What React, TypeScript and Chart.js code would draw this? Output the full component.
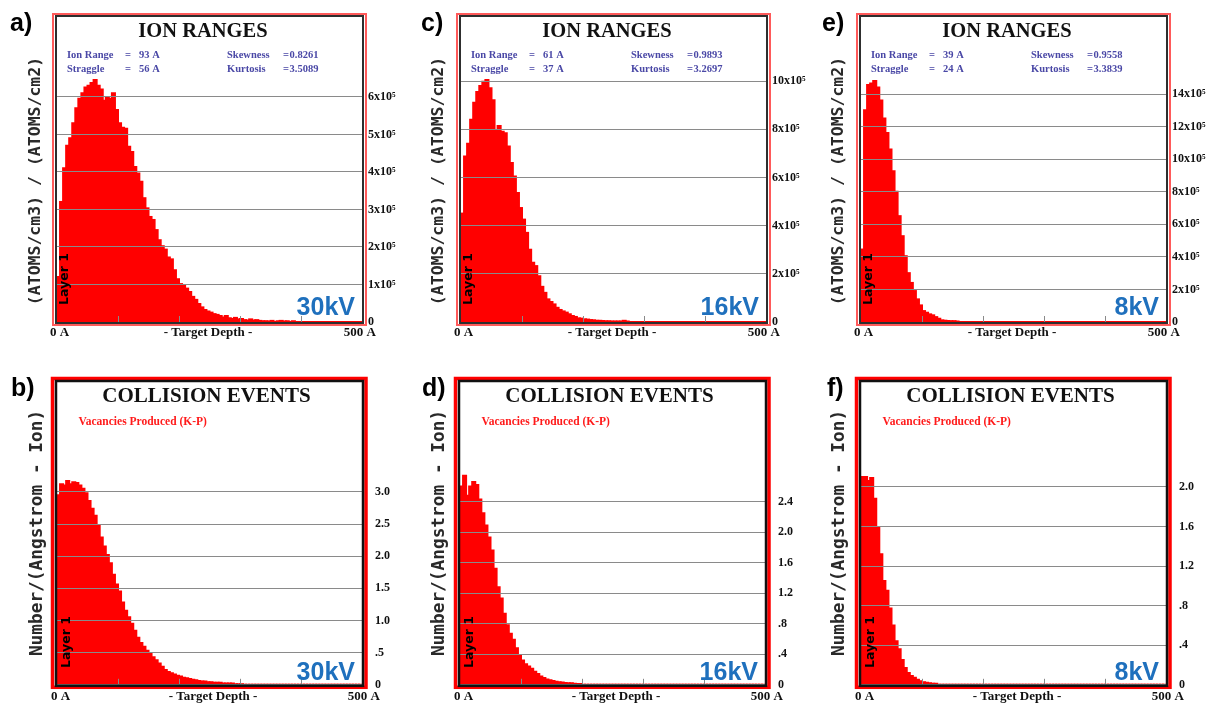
import React, { useEffect, useRef } from "react";
import { Chart, registerables } from "chart.js";

Chart.register(...registerables);

// ---------------- DATA ----------------
// Target depth bins: 100 bins of 5 Å from 0 to 500 Å (SRIM histogram)
const depthBins: number[] = Array.from({ length: 100 }, (_, i) => i * 5);
const DEPTH_MAX = 500;
const depthMinorTicks = [100, 200, 300, 400];
const xStartLabel = "0 A";
const xEndLabel = "500 A";
const xAxisTitle = "- Target Depth -";

// Ion ranges, units of 10^5 (atoms/cm3)/(atoms/cm2)
const ions30kV = [
  1.2, 3.2, 4.1, 4.7, 4.9, 5.3, 5.7, 5.95, 6.1, 6.25,
  6.3, 6.37, 6.45, 6.3, 6.2, 5.9, 6.0, 5.95, 6.1, 5.65,
  5.3, 5.18, 5.15, 4.67, 4.53, 4.13, 3.96, 3.74, 3.3, 3.03,
  2.8, 2.72, 2.45, 2.18, 2.02, 1.93, 1.72, 1.67, 1.38, 1.14,
  1.01, 0.96, 0.89, 0.8, 0.67, 0.59, 0.48, 0.39, 0.32, 0.28,
  0.25, 0.21, 0.19, 0.16, 0.12, 0.16, 0.1, 0.08, 0.11, 0.07,
  0.08, 0.05, 0.04, 0.07, 0.04, 0.05, 0.03, 0.02, 0.02, 0.01,
  0.03, 0, 0.02, 0.03, 0.01, 0.02, 0, 0.02, 0, 0,
  0, 0, 0, 0, 0, 0, 0, 0, 0, 0,
  0, 0, 0, 0, 0, 0, 0, 0, 0, 0,
];
const ions16kV = [
  4.5, 6.87, 7.4, 8.4, 9.1, 9.55, 9.8, 9.97, 10.05, 9.7,
  9.2, 7.97, 8.14, 7.9, 7.83, 7.28, 6.6, 6.04, 5.35, 4.73,
  4.25, 3.7, 3.0, 2.46, 2.32, 1.9, 1.46, 1.21, 0.94, 0.83,
  0.73, 0.59, 0.5, 0.44, 0.39, 0.32, 0.25, 0.21, 0.15, 0.14,
  0.11, 0.1, 0.08, 0.07, 0.05, 0.05, 0.04, 0.03, 0.03, 0.02,
  0.02, 0.01, 0.01, 0.05, 0.01, 0, 0, 0, 0, 0,
  0, 0, 0, 0, 0, 0, 0, 0, 0, 0,
  0, 0, 0, 0, 0, 0, 0, 0, 0, 0,
  0, 0, 0, 0, 0, 0, 0, 0, 0, 0,
  0, 0, 0, 0, 0, 0, 0, 0, 0, 0,
];
const ions8kV = [
  4.45, 13.0, 14.55, 14.65, 14.8, 14.4, 13.6, 12.5, 11.6, 10.6,
  9.25, 8.0, 6.5, 5.27, 4.04, 3.0, 2.4, 1.9, 1.39, 1.02,
  0.67, 0.57, 0.47, 0.41, 0.3, 0.2, 0.1, 0.08, 0.06, 0.05,
  0.05, 0.03, 0, 0, 0, 0, 0, 0, 0, 0,
  0, 0, 0, 0, 0, 0, 0, 0, 0, 0,
  0, 0, 0, 0, 0, 0, 0, 0, 0, 0,
  0, 0, 0, 0, 0, 0, 0, 0, 0, 0,
  0, 0, 0, 0, 0, 0, 0, 0, 0, 0,
  0, 0, 0, 0, 0, 0, 0, 0, 0, 0,
  0, 0, 0, 0, 0, 0, 0, 0, 0, 0,
];

// Collision events: vacancies produced, Number/(Angstrom-Ion)
const vac30kV = [
  2.95, 3.12, 3.1, 3.17, 3.12, 3.15, 3.14, 3.1, 3.05, 2.98,
  2.86, 2.74, 2.63, 2.48, 2.29, 2.15, 2.02, 1.89, 1.71, 1.56,
  1.45, 1.28, 1.15, 1.05, 0.95, 0.84, 0.73, 0.65, 0.59, 0.53,
  0.48, 0.43, 0.38, 0.33, 0.28, 0.23, 0.2, 0.18, 0.16, 0.14,
  0.13, 0.11, 0.1, 0.09, 0.08, 0.07, 0.06, 0.05, 0.05, 0.04,
  0.04, 0.03, 0.03, 0.03, 0.02, 0.02, 0.02, 0.02, 0.01, 0.01,
  0.01, 0, 0, 0, 0, 0, 0, 0, 0, 0,
  0, 0, 0, 0, 0, 0, 0, 0, 0, 0,
  0, 0, 0, 0, 0, 0, 0, 0, 0, 0,
  0, 0, 0, 0, 0, 0, 0, 0, 0, 0,
];
const vac16kV = [
  2.6, 2.74, 2.48, 2.6, 2.66, 2.62, 2.43, 2.25, 2.09, 1.93,
  1.76, 1.52, 1.28, 1.13, 0.93, 0.78, 0.67, 0.59, 0.48, 0.39,
  0.32, 0.27, 0.24, 0.21, 0.17, 0.14, 0.11, 0.09, 0.07, 0.06,
  0.05, 0.04, 0.035, 0.03, 0.025, 0.02, 0.02, 0.015, 0.01, 0.01,
  0, 0, 0, 0, 0, 0, 0, 0, 0, 0,
  0, 0, 0, 0, 0, 0, 0, 0, 0, 0,
  0, 0, 0, 0, 0, 0, 0, 0, 0, 0,
  0, 0, 0, 0, 0, 0, 0, 0, 0, 0,
  0, 0, 0, 0, 0, 0, 0, 0, 0, 0,
  0, 0, 0, 0, 0, 0, 0, 0, 0, 0,
];
const vac8kV = [
  2.1, 2.1, 2.06, 2.09, 1.88, 1.59, 1.32, 1.05, 0.95, 0.77,
  0.6, 0.44, 0.36, 0.25, 0.17, 0.12, 0.09, 0.07, 0.05, 0.035,
  0.025, 0.02, 0.015, 0.01, 0.01, 0, 0, 0, 0, 0,
  0, 0, 0, 0, 0, 0, 0, 0, 0, 0,
  0, 0, 0, 0, 0, 0, 0, 0, 0, 0,
  0, 0, 0, 0, 0, 0, 0, 0, 0, 0,
  0, 0, 0, 0, 0, 0, 0, 0, 0, 0,
  0, 0, 0, 0, 0, 0, 0, 0, 0, 0,
  0, 0, 0, 0, 0, 0, 0, 0, 0, 0,
  0, 0, 0, 0, 0, 0, 0, 0, 0, 0,
];

// Y ticks (right axis)
const ionTicks30 = [0, 1, 2, 3, 4, 5, 6];
const ionTickLabels30 = ["0", "1x10⁵", "2x10⁵", "3x10⁵", "4x10⁵", "5x10⁵", "6x10⁵"];
const ionTicks16 = [0, 2, 4, 6, 8, 10];
const ionTickLabels16 = ["0", "2x10⁵", "4x10⁵", "6x10⁵", "8x10⁵", "10x10⁵"];
const ionTicks8 = [0, 2, 4, 6, 8, 10, 12, 14];
const ionTickLabels8 = ["0", "2x10⁵", "4x10⁵", "6x10⁵", "8x10⁵", "10x10⁵", "12x10⁵", "14x10⁵"];
const vacTicks30 = [0, 0.5, 1, 1.5, 2, 2.5, 3];
const vacTickLabels30 = ["0", ".5", "1.0", "1.5", "2.0", "2.5", "3.0"];
const vacTicks16 = [0, 0.4, 0.8, 1.2, 1.6, 2.0, 2.4];
const vacTickLabels16 = ["0", ".4", ".8", "1.2", "1.6", "2.0", "2.4"];
const vacTicks8 = [0, 0.4, 0.8, 1.2, 1.6, 2.0];
const vacTickLabels8 = ["0", ".4", ".8", "1.2", "1.6", "2.0"];

// Statistics text
const stats30kV = [["Ion Range", "93 A", "Skewness", "0.8261"], ["Straggle", "56 A", "Kurtosis", "3.5089"]];
const stats16kV = [["Ion Range", "61 A", "Skewness", "0.9893"], ["Straggle", "37 A", "Kurtosis", "3.2697"]];
const stats8kV = [["Ion Range", "39 A", "Skewness", "0.9558"], ["Straggle", "24 A", "Kurtosis", "3.3839"]];

// ---------------- LAYOUT / STYLE ----------------
const SERIF = '"Liberation Serif", "Times New Roman", serif';
const SANS = '"Liberation Sans", Arial, sans-serif';
const MONO = '"DejaVu Sans Mono", monospace';
const GRID = "#8a8a8a";
const CANVAS_W = 415;
const AXIS_W = 45;

const ROWS: Record<string, any> = {
  top: {
    canvasTop: 0, canvasH: 345, caTop: 17, caBottom: 322, caL: 5, caR: 310, tickPad: 6,
    letterY: 31, yTitleY: 181, yTitleFont: `bold 16.5px ${MONO}`, yTitle: "(ATOMS/cm3) / (ATOMS/cm2)",
    title: "ION RANGES", titleY: 37, titleFont: `bold 20.5px ${SERIF}`, titleX: 151,
    kvY: 315, kvR: 303, layerX: 12.5, layerY: 305, xLabY: 333, xTitleX: 156, x500R: 324, x0L: -2,
  },
  bottom: {
    canvasTop: 350, canvasH: 355, caTop: 382, caBottom: 685, caL: 6, caR: 311, tickPad: 13,
    letterY: 396, yTitleY: 533, yTitleFont: `bold 17.8px ${MONO}`, yTitle: "Number/(Angstrom - Ion)",
    title: "COLLISION EVENTS", titleY: 402, titleFont: `bold 21px ${SERIF}`, titleX: 155.5,
    kvY: 680, kvR: 304, layerX: 15.5, layerY: 668, xLabY: 697, xTitleX: 162, x500R: 329, x0L: 0,
  },
};

type PanelCfg = {
  key: string; letter: string; row: "top" | "bottom"; L: number; letterX: number; yTitleX: number;
  values: number[]; yMax: number; ticks: number[]; tickLabels: string[]; kv: string; stats?: string[][];
};

const PANELS: PanelCfg[] = [
  { key: "a", letter: "a)", row: "top", L: 52, letterX: 10, yTitleX: 36, values: ions30kV, yMax: 8.13, ticks: ionTicks30, tickLabels: ionTickLabels30, kv: "30kV", stats: stats30kV },
  { key: "c", letter: "c)", row: "top", L: 456, letterX: 421, yTitleX: 439, values: ions16kV, yMax: 12.66, ticks: ionTicks16, tickLabels: ionTickLabels16, kv: "16kV", stats: stats16kV },
  { key: "e", letter: "e)", row: "top", L: 856, letterX: 822, yTitleX: 839, values: ions8kV, yMax: 18.73, ticks: ionTicks8, tickLabels: ionTickLabels8, kv: "8kV", stats: stats8kV },
  { key: "b", letter: "b)", row: "bottom", L: 51, letterX: 11, yTitleX: 37, values: vac30kV, yMax: 4.71, ticks: vacTicks30, tickLabels: vacTickLabels30, kv: "30kV" },
  { key: "d", letter: "d)", row: "bottom", L: 454, letterX: 422, yTitleX: 439, values: vac16kV, yMax: 3.97, ticks: vacTicks16, tickLabels: vacTickLabels16, kv: "16kV" },
  { key: "f", letter: "f)", row: "bottom", L: 855, letterX: 827, yTitleX: 839, values: vac8kV, yMax: 3.06, ticks: vacTicks8, tickLabels: vacTickLabels8, kv: "8kV" },
];

function text(ctx: CanvasRenderingContext2D, s: string, x: number, y: number, font: string, color: string, align: CanvasTextAlign, base: CanvasTextBaseline) {
  ctx.font = font;
  ctx.fillStyle = color;
  ctx.textAlign = align;
  ctx.textBaseline = base;
  ctx.fillText(s, x, y);
}

function rotText(ctx: CanvasRenderingContext2D, s: string, x: number, y: number, font: string, color: string, align: CanvasTextAlign) {
  ctx.save();
  ctx.translate(x, y);
  ctx.rotate(-Math.PI / 2);
  text(ctx, s, 0, 0, font, color, align, "middle");
  ctx.restore();
}

function makeDecor(p: PanelCfg) {
  const r = ROWS[p.row];
  return {
    id: "srimDecor" + p.key,
    afterDraw(chart: any) {
      const ctx: CanvasRenderingContext2D = chart.ctx;
      const ca = chart.chartArea;
      const ox = p.L - 50;
      const oy = r.canvasTop;
      const X = (v: number) => v - ox;
      const Y = (v: number) => v - oy;
      ctx.save();
      // small depth ticks on the baseline
      const xs = chart.scales.x;
      ctx.strokeStyle = GRID;
      ctx.lineWidth = 1;
      for (const d of depthMinorTicks) {
        const x = Math.round(xs.getPixelForDecimal(d / DEPTH_MAX)) + 0.5;
        ctx.beginPath();
        ctx.moveTo(x, ca.bottom);
        ctx.lineTo(x, ca.bottom - 6);
        ctx.stroke();
      }
      // frames
      if (p.row === "top") {
        ctx.strokeStyle = "#ff5a5a";
        ctx.lineWidth = 2;
        ctx.strokeRect(ca.left - 4, ca.top - 3, ca.right - ca.left + 8, ca.bottom - ca.top + 6);
        ctx.strokeStyle = "#2e2e2e";
        ctx.lineWidth = 2;
        ctx.strokeRect(ca.left - 1, ca.top - 1, ca.right - ca.left + 2, ca.bottom - ca.top + 2);
      } else {
        ctx.strokeStyle = "#ff0000";
        ctx.lineWidth = 3.5;
        ctx.strokeRect(ca.left - 4.5, ca.top - 3.5, ca.right - ca.left + 8.5, ca.bottom - ca.top + 6);
        ctx.strokeStyle = "#111";
        ctx.lineWidth = 2.5;
        ctx.strokeRect(ca.left - 1, ca.top - 1, ca.right - ca.left + 2, ca.bottom - ca.top + 2);
      }
      // panel letter
      text(ctx, p.letter, X(p.letterX), Y(r.letterY), `bold 25px ${SANS}`, "#000", "left", "alphabetic");
      // y axis title
      rotText(ctx, r.yTitle, X(p.yTitleX), Y(r.yTitleY), r.yTitleFont, "#2a2a2a", "center");
      // title
      text(ctx, r.title, X(p.L + r.titleX), Y(r.titleY), r.titleFont, "#111", "center", "alphabetic");
      // stats / legend
      if (p.stats) {
        const f = `bold 10.5px ${SERIF}`;
        const c = "#4a48a6";
        const rowsY = [55.5, 69.5];
        p.stats.forEach((row, i) => {
          const y = Y(rowsY[i]);
          text(ctx, row[0], X(p.L + 15), y, f, c, "left", "middle");
          text(ctx, "=", X(p.L + 73), y, f, c, "left", "middle");
          text(ctx, row[1], X(p.L + 87), y, f, c, "left", "middle");
          text(ctx, row[2], X(p.L + 175), y, f, c, "left", "middle");
          text(ctx, "=", X(p.L + 231), y, f, c, "left", "middle");
          text(ctx, row[3], X(p.L + 237.5), y, f, c, "left", "middle");
        });
      } else {
        text(ctx, "Vacancies Produced (K-P)", X(p.L + 27.5), Y(422), `bold 11.5px ${SERIF}`, "#ff1a1a", "left", "middle");
      }
      // voltage label
      text(ctx, p.kv, X(p.L + r.kvR), Y(r.kvY), `bold 25px ${SANS}`, "#1f70bd", "right", "alphabetic");
      // layer label
      rotText(ctx, "Layer 1", X(p.L + r.layerX), Y(r.layerY), `bold 12.5px "DejaVu Sans", sans-serif`, "#000", "left");
      // x axis labels
      const xf = `bold 13px ${SERIF}`;
      text(ctx, xStartLabel, X(p.L + r.x0L), Y(r.xLabY), xf, "#111", "left", "middle");
      text(ctx, xAxisTitle, X(p.L + r.xTitleX), Y(r.xLabY), xf, "#111", "center", "middle");
      text(ctx, xEndLabel, X(p.L + r.x500R), Y(r.xLabY), xf, "#111", "right", "middle");
      ctx.restore();
    },
  };
}

function Panel({ cfg }: { cfg: PanelCfg }) {
  const ref = useRef<HTMLCanvasElement>(null);
  const r = ROWS[cfg.row];
  useEffect(() => {
    const canvas = ref.current;
    if (!canvas) return;
    const chart = new Chart(canvas, {
      type: "bar",
      data: {
        labels: depthBins.map(String),
        datasets: [
          {
            data: cfg.values,
            backgroundColor: "#ff0000",
            borderWidth: 0,
            barPercentage: 1,
            categoryPercentage: 1,
            inflateAmount: 1,
          },
        ],
      },
      options: {
        responsive: false,
        animation: false,
        devicePixelRatio: 1,
        layout: {
          padding: {
            left: r.caL + 50,
            right: CANVAS_W - (r.caR + 50) - AXIS_W,
            top: r.caTop - r.canvasTop,
            bottom: r.canvasTop + r.canvasH - r.caBottom,
          },
        },
        plugins: { legend: { display: false }, tooltip: { enabled: false }, title: { display: false } },
        scales: {
          x: { display: false, offset: true },
          y: {
            position: "right",
            min: 0,
            max: cfg.yMax,
            afterBuildTicks: (s: any) => {
              s.ticks = cfg.ticks.map((v) => ({ value: v }));
            },
            afterFit: (s: any) => {
              s.width = AXIS_W;
            },
            grid: { color: GRID, lineWidth: 1, drawTicks: false, z: 1 },
            border: { display: false },
            ticks: {
              padding: r.tickPad,
              color: "#111",
              autoSkip: false,
              font: { family: SERIF, size: 12, weight: "bold" },
              callback: (_v: any, i: number) => cfg.tickLabels[i] ?? "",
            },
          },
        },
      } as any,
      plugins: [makeDecor(cfg)],
    });
    return () => chart.destroy();
  }, [cfg]);
  return (
    <canvas
      ref={ref}
      width={CANVAS_W}
      height={r.canvasH}
      style={{ position: "absolute", left: cfg.L - 50, top: r.canvasTop, width: CANVAS_W, height: r.canvasH }}
    />
  );
}

export default function App() {
  return (
    <div style={{ position: "absolute", left: 0, top: 0, width: 1221, height: 705, background: "#fff", overflow: "hidden" }}>
      {PANELS.map((p) => (
        <Panel key={p.key} cfg={p} />
      ))}
    </div>
  );
}
